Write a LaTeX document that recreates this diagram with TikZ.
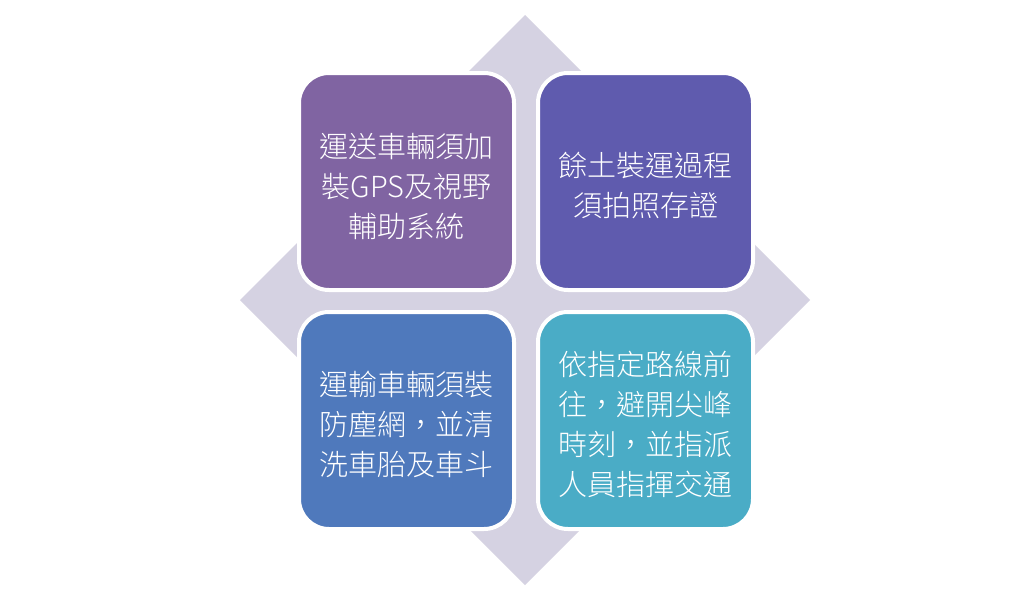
\documentclass[tikz,border=0pt]{standalone}
\usepackage{fontspec}
\newfontfamily\cjk{Noto Sans CJK TC Light}
\definecolor{diamondc}{HTML}{D5D2E2}
\definecolor{tlc}{HTML}{8064A2}
\definecolor{trc}{HTML}{5F5BAE}
\definecolor{blc}{HTML}{4F79BC}
\definecolor{brc}{HTML}{4AACC6}
\tikzset{
  tile/.style={rectangle, rounded corners=30pt, minimum width=215pt, minimum height=217pt,
    draw=white, line width=4pt, inner sep=0pt},
  tiletext/.style={text=white, align=center, inner sep=0pt,
    font=\cjk\fontsize{29}{40}\selectfont}
}
\begin{document}
\begin{tikzpicture}[x=1pt,y=-1pt]
\useasboundingbox[fill=white] (0,0) rectangle (1021,597);
\fill[diamondc] (525,15) coordinate (dt) -- (810,300) coordinate (dr) -- (525,585) coordinate (db) -- (240,300) coordinate (dl) -- cycle;
\node[tile, fill=tlc] (tl) at (406.5,181.5) {};
\node[tile, fill=trc] (tr) at (645.5,181.5) {};
\node[tile, fill=blc] (bl) at (406.5,420.5) {};
\node[tile, fill=brc] (br) at (645.5,420.5) {};
\node[tiletext] (tlt) at ([yshift=-5pt]tl.center) {運送車輛須加\\裝GPS及視野\\輔助系統};
\node[tiletext] (trt) at ([yshift=-4pt]tr.center) {餘土裝運過程\\須拍照存證};
\node[tiletext] (blt) at ([yshift=-4pt]bl.center) {運輸車輛須裝\\防塵網，並清\\洗車胎及車斗};
\node[tiletext] (brt) at ([yshift=-4pt]br.center) {依指定路線前\\往，避開尖峰\\時刻，並指派\\人員指揮交通};
\end{tikzpicture}
\end{document}
